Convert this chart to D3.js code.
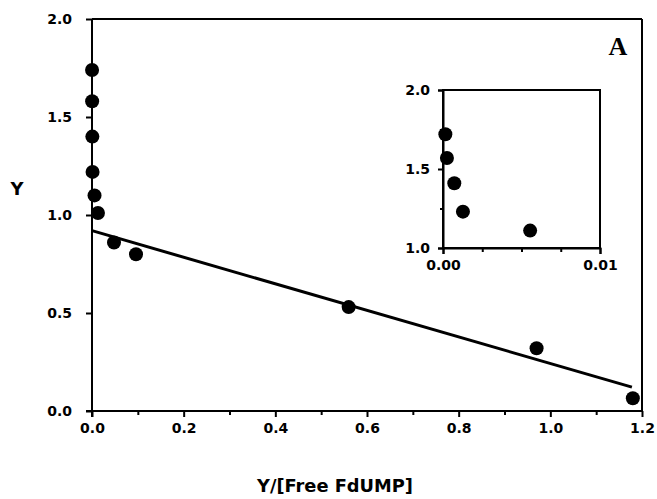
<!DOCTYPE html>
<html>
<head>
<meta charset="utf-8">
<script src="https://cdn.jsdelivr.net/npm/d3@7"></script>
<style>
  html, body { margin: 0; padding: 0; background: #fff; }
  svg { display: block; }
  text { font-family: "DejaVu Sans", sans-serif; font-weight: bold; fill: #000; }
</style>
</head>
<body>
<script>
// ---- data ----
const mainX = [0.0001, 0.0003, 0.0008, 0.0012, 0.0055, 0.013, 0.048, 0.096, 0.56, 0.97, 1.18];
const mainY = [1.74, 1.58, 1.40, 1.22, 1.10, 1.01, 0.86, 0.80, 0.53, 0.32, 0.065];
const fitX = [0, 1.178];
const fitY = [0.92, 0.122];
const insetX = [0.00015, 0.00025, 0.00072, 0.00127, 0.00555];
const insetY = [1.72, 1.57, 1.41, 1.23, 1.11];
const mainXTicks = [0, 0.2, 0.4, 0.6, 0.8, 1.0, 1.2];
const mainXMinor = [0.1, 0.3, 0.5, 0.7, 0.9, 1.1];
const mainYTicks = [0, 0.5, 1.0, 1.5, 2.0];
const insetXTicks = [0, 0.01];
const insetXMinor = [0.0025, 0.005, 0.0075];
const insetYTicks = [1.0, 1.5, 2.0];
const insetYMinor = [1.25, 1.75];

const W = 657, H = 499;
const svg = d3.select("body").append("svg").attr("width", W).attr("height", H);

// main scales
const x = d3.scaleLinear().domain([0, 1.2]).range([92, 642]);
const y = d3.scaleLinear().domain([0, 2]).range([411, 19]);

// frame (top & right)
svg.append("line").attr("x1", x(0)).attr("x2", x(1.2)).attr("y1", y(2)).attr("y2", y(2))
  .attr("stroke", "#000").attr("stroke-width", 2);
svg.append("line").attr("x1", x(1.2)).attr("x2", x(1.2)).attr("y1", y(2)).attr("y2", y(0))
  .attr("stroke", "#000").attr("stroke-width", 2);

// axes
const xAxis = svg.append("g").attr("transform", `translate(0,${y(0)})`)
  .call(d3.axisBottom(x).tickValues(mainXTicks).tickFormat(d3.format(".1f")).tickSize(6).tickPadding(6));
svg.append("g").attr("transform", `translate(0,${y(0)})`)
  .call(d3.axisBottom(x).tickValues(mainXMinor).tickFormat("").tickSize(4))
  .call(g => g.select(".domain").remove());
const yAxis = svg.append("g").attr("transform", `translate(${x(0)},0)`)
  .call(d3.axisLeft(y).tickValues(mainYTicks).tickFormat(d3.format(".1f")).tickSize(6).tickPadding(14));

svg.selectAll(".tick line, .domain").attr("stroke", "#000").attr("stroke-width", 2);
svg.selectAll(".tick text").style("font-size", "14px").style("font-family", "DejaVu Sans").style("font-weight", "bold");
xAxis.select(".domain").attr("d", `M${x(0) - 6},0H${x(1.2)}`);
yAxis.select(".domain").attr("d", `M0,${y(2)}V${y(0) + 6}`);

// fit line
const fit = fitX.map((v, i) => [v, fitY[i]]);
svg.append("path").datum(fit)
  .attr("d", d3.line().x(d => x(d[0])).y(d => y(d[1])))
  .attr("stroke", "#000").attr("stroke-width", 3).attr("fill", "none");

// main points
svg.append("g").selectAll("circle").data(mainX.map((v, i) => [v, mainY[i]]))
  .join("circle").attr("cx", d => x(d[0])).attr("cy", d => y(d[1])).attr("r", 7).attr("fill", "#000");

// inset
const ix = d3.scaleLinear().domain([0, 0.01]).range([443, 600]);
const iy = d3.scaleLinear().domain([1, 2]).range([248, 90]);
svg.append("rect").attr("x", ix(0)).attr("y", iy(2)).attr("width", ix(0.01) - ix(0)).attr("height", iy(1) - iy(2))
  .attr("fill", "#fff").attr("stroke", "#000").attr("stroke-width", 2);
const ixa = svg.append("g").attr("class", "inset").attr("transform", `translate(0,${iy(1)})`)
  .call(d3.axisBottom(ix).tickValues(insetXTicks).tickFormat(d3.format(".2f")).tickSize(6).tickPadding(6));
svg.append("g").attr("class", "inset").attr("transform", `translate(0,${iy(1)})`)
  .call(d3.axisBottom(ix).tickValues(insetXMinor).tickFormat("").tickSize(4))
  .call(g => g.select(".domain").remove());
const iya = svg.append("g").attr("class", "inset").attr("transform", `translate(${ix(0)},0)`)
  .call(d3.axisLeft(iy).tickValues(insetYTicks).tickFormat(d3.format(".1f")).tickSize(5).tickPadding(8));
svg.append("g").attr("class", "inset").attr("transform", `translate(${ix(0)},0)`)
  .call(d3.axisLeft(iy).tickValues(insetYMinor).tickFormat("").tickSize(3))
  .call(g => g.select(".domain").remove());
svg.selectAll(".inset .tick line, .inset .domain").attr("stroke", "#000").attr("stroke-width", 2);
svg.selectAll(".inset .tick text").style("font-size", "14px").style("font-family", "DejaVu Sans").style("font-weight", "bold");

svg.append("g").selectAll("circle").data(insetX.map((v, i) => [v, insetY[i]]))
  .join("circle").attr("cx", d => ix(d[0])).attr("cy", d => iy(d[1])).attr("r", 7).attr("fill", "#000");

// labels
svg.append("text").attr("x", 618).attr("y", 55).attr("text-anchor", "middle")
  .style("font-family", "Liberation Serif").style("font-size", "26px").style("font-weight", "bold").text("A");
svg.append("text").attr("x", 17).attr("y", 195).attr("text-anchor", "middle")
  .style("font-size", "18px").text("Y");
svg.append("text").attr("x", 257).attr("y", 492).attr("text-anchor", "start")
  .attr("textLength", 156).attr("lengthAdjust", "spacingAndGlyphs")
  .style("font-size", "18px").text("Y/[Free FdUMP]");
</script>
</body>
</html>
